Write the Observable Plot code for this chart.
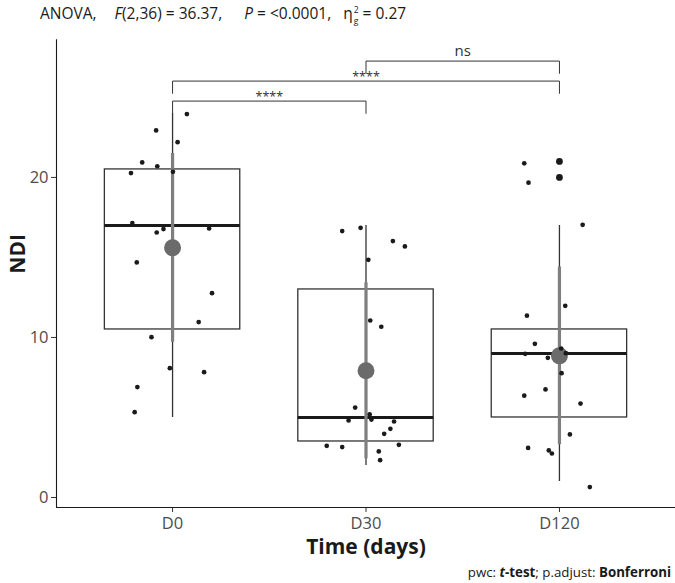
<!DOCTYPE html>
<html>
<head>
<meta charset="utf-8">
<script src="https://cdn.jsdelivr.net/npm/d3@7"></script>
<script src="https://cdn.jsdelivr.net/npm/@observablehq/plot@0.6"></script>
<style>
  html, body { margin: 0; padding: 0; background: #fff; }
  #wrap { width: 675px; height: 583px; font-family: "Open Sans", "DejaVu Sans", sans-serif; color: #1a1a1a; }
  #title { height: 26px; line-height: 26px; font-size: 15.5px; padding-left: 40px; white-space: nowrap; box-sizing: border-box; overflow: hidden; }
  #title .g1 { display: inline-block; width: 18px; }
  #title .g2 { display: inline-block; width: 22px; }
  #title .g3 { display: inline-block; width: 12px; }
  #title .ss { display: inline-block; vertical-align: middle; line-height: 11px; font-size: 8.5px; margin-left: 1px; text-align: left; }
  #title .ss span { display: block; }
  #chart { height: 534px; }
  #chart svg { display: block; }
  #caption { height: 23px; line-height: 24px; font-size: 13.3px; text-align: right; padding-right: 4px; white-space: nowrap; box-sizing: border-box; }
</style>
</head>
<body>
<div id="wrap">
  <div id="title"></div>
  <div id="chart"></div>
  <div id="caption"></div>
</div>
<script>
// ---------- data ----------
const groups = ["D0", "D30", "D120"];
const yTicks = [0, 10, 20];

// box statistics per group
const boxQ1     = [10.5, 3.5, 5];
const boxMedian = [17, 5, 9];
const boxQ3     = [20.5, 13, 10.5];
const whiskLow  = [5, 2, 1];
const whiskHigh = [24, 17, 17];

// mean and standard deviation per group
const groupMean = [15.6, 7.92, 8.85];
const groupSD   = [5.9, 5.5, 5.55];

// outliers (drawn by the boxplot at the group centre)
const outlierGroup = ["D120", "D120"];
const outlierValue = [21, 20];

// jittered observations (values as plotted) and horizontal jitter (category units)
const ndiD0   = [23.96, 22.94, 22.2, 20.94, 20.7, 20.27, 20.35, 17.15, 16.77, 16.81, 16.56, 14.69, 12.77, 10.96, 10.02, 8.08, 7.83, 6.9, 5.33];
const jitD0   = [0.074, -0.085, 0.026, -0.157, -0.079, -0.215, 0.002, -0.208, -0.047, 0.189, -0.082, -0.185, 0.204, 0.135, -0.109, -0.014, 0.163, -0.182, -0.196];
const ndiD30  = [16.65, 16.85, 16.02, 15.69, 14.85, 11.06, 10.67, 5.62, 5.19, 4.87, 4.81, 4.75, 4.29, 3.98, 3.29, 3.23, 3.15, 2.88, 2.33];
const jitD30  = [-0.123, -0.028, 0.139, 0.201, 0.012, 0.022, 0.079, -0.056, 0.019, 0.028, -0.090, 0.145, 0.126, 0.094, 0.170, -0.203, -0.123, 0.066, 0.073];
const ndiD120 = [20.88, 19.67, 17.04, 11.98, 11.36, 9.6, 9.31, 8.98, 9.02, 8.73, 7.77, 6.75, 6.36, 5.87, 3.94, 3.1, 2.94, 2.75, 0.65];
const jitD120 = [-0.182, -0.160, 0.120, 0.030, -0.168, -0.127, 0.009, -0.177, 0.033, -0.060, 0.011, -0.072, -0.182, 0.109, 0.054, -0.162, -0.055, -0.039, 0.157];

// pairwise comparisons
const pwcFrom  = ["D0", "D0", "D30"];
const pwcTo    = ["D30", "D120", "D120"];
const pwcLabel = ["****", "****", "ns"];
const pwcY     = [24.77, 26.02, 27.27];

// texts
const titleParts = { test: "ANOVA,", F: "F", Fval: "(2,36) = 36.37,", P: "P", Pval: " = <0.0001,", eta: "η", etaSup: "2", etaSub: "g", etaVal: " = 0.27" };
const captionParts = { a: "pwc: ", t: "t", test: "-test", b: "; p.adjust: ", adj: "Bonferroni" };
const xTitle = "Time (days)";
const yTitle = "NDI";

// ---------- build tables ----------
const pos = g => groups.indexOf(g) + 1;
const boxes = groups.map((g, i) => ({ g, p: i + 1, q1: boxQ1[i], med: boxMedian[i], q3: boxQ3[i], lo: whiskLow[i], hi: whiskHigh[i], mean: groupMean[i], sd: groupSD[i] }));
const points = [
  ...ndiD0.map((v, i) => ({ g: "D0", v, j: jitD0[i] })),
  ...ndiD30.map((v, i) => ({ g: "D30", v, j: jitD30[i] })),
  ...ndiD120.map((v, i) => ({ g: "D120", v, j: jitD120[i] }))
];
const outliers = outlierGroup.map((g, i) => ({ g, v: outlierValue[i] }));
const tip = 0.79;
const brackets = pwcFrom.map((f, i) => ({ x1: pos(f), x2: pos(pwcTo[i]), y: pwcY[i], label: pwcLabel[i] }));
const legs = brackets.flatMap(b => [{ x: b.x1, y: b.y }, { x: b.x2, y: b.y }]);

const FONT = '"Open Sans", "DejaVu Sans", sans-serif';
const half = 0.35;

const plot = Plot.plot({
  width: 675,
  height: 534,
  marginLeft: 56,
  marginRight: 0,
  marginTop: 13.3,
  marginBottom: 53,
  style: { fontFamily: FONT, background: "white", overflow: "visible" },
  x: { domain: [0.4, 3.6], axis: null },
  y: { domain: [-0.625, 28.6], axis: null },
  marks: [
    // axes
    Plot.axisY({ ticks: yTicks, tickSize: 5, tickPadding: 3, fontSize: 16.5, fill: "#4d4d4d", stroke: "#333", label: null }),
    Plot.axisX({ ticks: [1, 2, 3], tickFormat: d => groups[d - 1], tickSize: 5, tickPadding: 5, fontSize: 16.5, fill: "#4d4d4d", stroke: "#333", label: null }),
    Plot.ruleX([0.4], { stroke: "#1a1a1a", strokeWidth: 1.1 }),
    Plot.ruleY([-0.625], { stroke: "#1a1a1a", strokeWidth: 1.1 }),
    // whiskers
    Plot.ruleX(boxes, { x: "p", y1: "lo", y2: "hi", stroke: "#333", strokeWidth: 1.3 }),
    // boxes
    Plot.rect(boxes, { x1: d => d.p - half, x2: d => d.p + half, y1: "q1", y2: "q3", fill: "white", stroke: "#333", strokeWidth: 1.3 }),
    Plot.ruleY(boxes, { y: "med", x1: d => d.p - half, x2: d => d.p + half, stroke: "#1a1a1a", strokeWidth: 3 }),
    Plot.dot(outliers, { x: d => pos(d.g), y: "v", r: 3.4, fill: "#1a1a1a", stroke: "none" }),
    // mean ± sd
    Plot.ruleX(boxes, { x: "p", y1: d => d.mean - d.sd, y2: d => d.mean + d.sd, stroke: "#7f7f7f", strokeWidth: 3.2 }),
    Plot.dot(boxes, { x: "p", y: "mean", r: 8.5, fill: "#6b6b6b", stroke: "none" }),
    // jittered points
    Plot.dot(points, { x: d => pos(d.g) + d.j, y: "v", r: 2.35, fill: "#1a1a1a", stroke: "none" }),
    // brackets
    Plot.link(brackets, { x1: "x1", x2: "x2", y1: "y", y2: "y", stroke: "#333", strokeWidth: 1 }),
    Plot.link(legs, { x1: "x", x2: "x", y1: "y", y2: d => d.y - tip, stroke: "#333", strokeWidth: 1 }),
    Plot.text(brackets.filter(b => b.label === "ns"), { x: d => (d.x1 + d.x2) / 2, y: "y", text: "label", lineAnchor: "bottom", dy: -5, fontSize: 15, fill: "#333" }),
    Plot.text(brackets.filter(b => b.label !== "ns"), { x: d => (d.x1 + d.x2) / 2, y: "y", text: "label", lineAnchor: "bottom", dy: -0.5, fontSize: 12.5, fill: "#333" }),
    // axis titles
    Plot.text([yTitle], { frameAnchor: "left", dx: -38, rotate: -90, text: d => d, fontSize: 21, fontWeight: "bold", fill: "#1a1a1a", lineAnchor: "middle" }),
    Plot.text([xTitle], { frameAnchor: "bottom", dy: 40, text: d => d, fontSize: 21, fontWeight: "bold", fill: "#1a1a1a", lineAnchor: "middle" })
  ]
});
document.getElementById("chart").appendChild(plot);

// title & caption as HTML text
const tp = titleParts;
document.getElementById("title").innerHTML =
  `${tp.test}<span class="g1"></span><i>${tp.F}</i>${tp.Fval}<span class="g2"></span><i>${tp.P}</i>${tp.Pval}<span class="g3"></span>${tp.eta}<span class="ss"><span>${tp.etaSup}</span><span>${tp.etaSub}</span></span>${tp.etaVal}`;
const cp = captionParts;
document.getElementById("caption").innerHTML =
  `${cp.a}<b><i>${cp.t}</i>${cp.test}</b>${cp.b}<b>${cp.adj}</b>`;
</script>
</body>
</html>
